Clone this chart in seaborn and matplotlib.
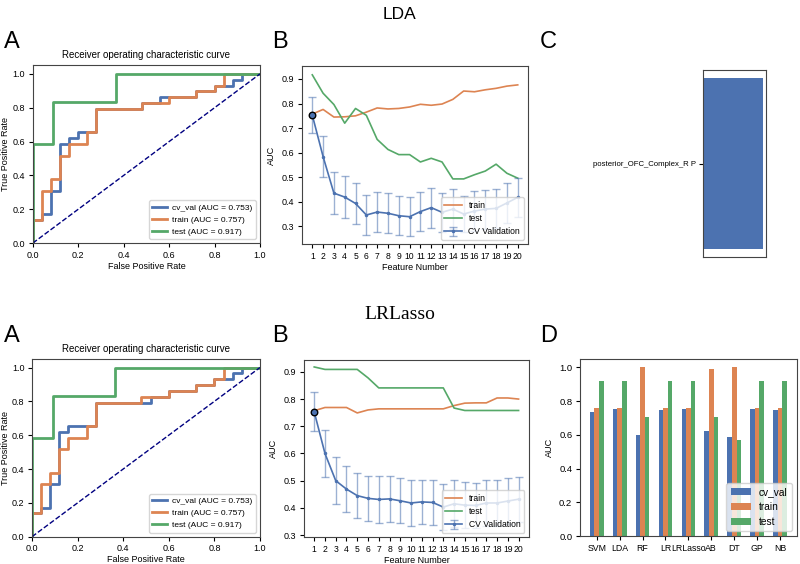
import numpy as np
import pandas as pd
import seaborn as sns
import matplotlib.pyplot as plt

# ROC curves (shared train / test, cv differs per model)
test_fpr = [0, 0, 0.091, 0.091, 0.364, 0.364, 1.0]
test_tpr = [0, 0.583, 0.583, 0.833, 0.833, 1.0, 1.0]
train_fpr = [0, 0, 0.04, 0.04, 0.08, 0.08, 0.12, 0.12, 0.16, 0.16, 0.24, 0.24, 0.28, 0.28,
             0.48, 0.48, 0.6, 0.6, 0.72, 0.72, 0.8, 0.8, 0.84, 0.84, 1.0]
train_tpr = [0, 0.138, 0.138, 0.31, 0.31, 0.379, 0.379, 0.517, 0.517, 0.586, 0.586, 0.655, 0.655, 0.793,
             0.793, 0.828, 0.828, 0.862, 0.862, 0.897, 0.897, 0.931, 0.931, 1.0, 1.0]
lda_cv_fpr = [0, 0, 0.04, 0.04, 0.08, 0.08, 0.12, 0.12, 0.16, 0.16, 0.2, 0.2, 0.28, 0.28, 0.48, 0.48,
              0.56, 0.56, 0.72, 0.72, 0.8, 0.8, 0.88, 0.88, 0.92, 0.92, 1.0]
lda_cv_tpr = [0, 0.138, 0.138, 0.172, 0.172, 0.31, 0.31, 0.586, 0.586, 0.62, 0.62, 0.655, 0.655, 0.793,
              0.793, 0.828, 0.828, 0.862, 0.862, 0.897, 0.897, 0.931, 0.931, 0.966, 0.966, 1.0, 1.0]
lasso_cv_fpr = [0, 0, 0.04, 0.04, 0.08, 0.08, 0.12, 0.12, 0.16, 0.16, 0.28, 0.28, 0.52, 0.52,
                0.6, 0.6, 0.72, 0.72, 0.8, 0.8, 0.88, 0.88, 0.92, 0.92, 1.0]
lasso_cv_tpr = [0, 0.138, 0.138, 0.172, 0.172, 0.31, 0.31, 0.62, 0.62, 0.655, 0.655, 0.793, 0.793, 0.828,
                0.828, 0.862, 0.862, 0.897, 0.897, 0.931, 0.931, 0.966, 0.966, 1.0, 1.0]
auc_labels = ['cv_val (AUC = 0.753)', 'train (AUC = 0.757)', 'test (AUC = 0.917)']

# feature number curves
feature_num = list(range(1, 21))
lda_train = [0.757, 0.776, 0.745, 0.746, 0.750, 0.765, 0.782, 0.778, 0.780, 0.786,
             0.797, 0.793, 0.798, 0.817, 0.851, 0.848, 0.856, 0.862, 0.871, 0.876]
lda_test = [0.917, 0.842, 0.796, 0.720, 0.780, 0.752, 0.654, 0.613, 0.592, 0.592,
            0.562, 0.577, 0.562, 0.493, 0.493, 0.510, 0.525, 0.553, 0.516, 0.496]
lda_cv = [0.753, 0.584, 0.435, 0.419, 0.393, 0.346, 0.358, 0.353, 0.343, 0.339,
          0.360, 0.376, 0.357, 0.370, 0.350, 0.362, 0.370, 0.373, 0.395, 0.418]
lda_cv_std = [0.072, 0.084, 0.086, 0.084, 0.083, 0.080, 0.080, 0.081, 0.080, 0.080,
              0.080, 0.081, 0.080, 0.080, 0.075, 0.080, 0.079, 0.079, 0.080, 0.080]
lasso_train = [0.757, 0.769, 0.769, 0.769, 0.749, 0.760, 0.764, 0.764, 0.764, 0.764,
               0.764, 0.764, 0.764, 0.776, 0.785, 0.786, 0.786, 0.804, 0.804, 0.800]
lasso_test = [0.918, 0.909, 0.909, 0.909, 0.909, 0.878, 0.841, 0.841, 0.841, 0.841,
              0.841, 0.841, 0.841, 0.767, 0.758, 0.758, 0.758, 0.758, 0.758, 0.758]
lasso_cv = [0.753, 0.600, 0.500, 0.469, 0.445, 0.435, 0.431, 0.433, 0.426, 0.418,
            0.422, 0.420, 0.403, 0.415, 0.410, 0.409, 0.418, 0.418, 0.425, 0.432]
lasso_cv_std = [0.072, 0.085, 0.087, 0.084, 0.084, 0.084, 0.085, 0.084, 0.083, 0.083,
                0.082, 0.083, 0.083, 0.087, 0.084, 0.083, 0.084, 0.084, 0.083, 0.083]

# selected feature (panel C)
feature_names = ['posterior_OFC_Complex_R P']
feature_coef = [1.0]

# model comparison (panel D)
models = ['SVM', 'LDA', 'RF', 'LR', 'LRLasso', 'AB', 'DT', 'GP', 'NB']
cv_val = [0.738, 0.753, 0.600, 0.746, 0.753, 0.625, 0.588, 0.751, 0.750]
train_auc = [0.757, 0.757, 1.0, 0.757, 0.757, 0.993, 1.0, 0.757, 0.757]
test_auc = [0.917, 0.917, 0.708, 0.917, 0.917, 0.704, 0.571, 0.917, 0.917]

pal = sns.color_palette('deep')
blue, orange, green = pal[0], pal[1], pal[2]
plt.rcParams['font.family'] = ['Liberation Sans', 'DejaVu Sans']
plt.rcParams['font.size'] = 6.5
plt.rcParams['axes.linewidth'] = 0.8
plt.rcParams['axes.edgecolor'] = '#444444'
plt.rcParams['xtick.major.size'] = 3
plt.rcParams['ytick.major.size'] = 3
plt.rcParams['xtick.major.pad'] = 2.5
plt.rcParams['ytick.major.pad'] = 2.5

fig = plt.figure(figsize=(8, 5.64), dpi=100)


def roc_panel(rect, cv_fpr, cv_tpr):
    ax = fig.add_axes(rect)
    for fpr, tpr, col, lab in zip([cv_fpr, train_fpr, test_fpr], [cv_tpr, train_tpr, test_tpr],
                                  [blue, orange, green], auc_labels):
        sns.lineplot(x=fpr, y=tpr, sort=False, estimator=None, color=col, lw=2, label=lab, ax=ax)
    ax.plot([0, 1], [0, 1], color='navy', lw=1, linestyle='--')
    ax.set_xlim(0, 1)
    ax.set_ylim(0, 1.05)
    ax.set_xlabel('False Positive Rate', fontsize=6.5, labelpad=1.5)
    ax.set_ylabel('True Positive Rate', fontsize=6.5, labelpad=1.5)
    ax.set_title('Receiver operating characteristic curve', fontsize=7, pad=5)
    ax.legend(loc='lower right', fontsize=6, handlelength=1.8, handletextpad=0.6)
    return ax


def feat_panel(rect, train, test, cv, cv_std, ylim):
    ax = fig.add_axes(rect)
    sns.lineplot(x=feature_num, y=train, color=orange, lw=1.2, label='train', ax=ax)
    sns.lineplot(x=feature_num, y=test, color=green, lw=1.2, label='test', ax=ax)
    eb = ax.errorbar(feature_num, cv, yerr=cv_std, color=blue, lw=1.2, marker='.', markersize=3,
                     capsize=3, elinewidth=1, label='CV Validation')
    for c in eb[1]:
        c.set_alpha(0.55)
    for c in eb[2]:
        c.set_alpha(0.55)
    ax.scatter(feature_num[:1], cv[:1], s=22, facecolor=blue, edgecolor='black', lw=1, zorder=5)
    ax.set_xticks(feature_num)
    ax.tick_params(axis='x', labelsize=6.2)
    ax.set_xlim(0.05, 20.95)
    ax.set_ylim(*ylim)
    ax.set_xlabel('Feature Number', fontsize=6.5, labelpad=1.5)
    ax.set_ylabel('AUC', fontsize=6.5)
    ax.legend(loc='lower right', fontsize=6.2)
    return ax


roc_panel([0.041, 0.569, 0.284, 0.315], lda_cv_fpr, lda_cv_tpr)
feat_panel([0.3775, 0.567, 0.2825, 0.316], lda_train, lda_test, lda_cv, lda_cv_std, (0.227, 0.953))

# panel C
axc = fig.add_axes([0.879, 0.544, 0.079, 0.332])
sns.barplot(x=feature_coef, y=feature_names, orient='h', color=blue, saturation=1, width=0.8, ax=axc)
axc.set_ylim(0.44, -0.44)
axc.set_xlim(0, feature_coef[0] * 1.05)
axc.set_xticks([])
axc.set_xlabel('')
axc.tick_params(axis='y', labelsize=5.6)

roc_panel([0.04, 0.0484, 0.285, 0.315], lasso_cv_fpr, lasso_cv_tpr)
feat_panel([0.38, 0.0479, 0.281, 0.314], lasso_train, lasso_test, lasso_cv, lasso_cv_std, (0.293, 0.944))

# panel D
df = pd.DataFrame({'model': models, 'cv_val': cv_val, 'train': train_auc, 'test': test_auc})
df = df.melt(id_vars='model', var_name='set', value_name='AUC')
axd = fig.add_axes([0.725, 0.0496, 0.271, 0.314])
sns.barplot(data=df, x='model', y='AUC', hue='set', palette=[blue, orange, green],
            saturation=1, width=0.6, ax=axd)
axd.set_xlim(-0.73, 8.73)
axd.set_ylim(0, 1.05)
axd.set_xlabel('')
axd.set_ylabel('AUC', fontsize=6.5)
axd.tick_params(axis='y', labelsize=6.8)
axd.tick_params(axis='x', labelsize=6.3)
axd.legend(loc='lower right', fontsize=7.3, title=None)

# headings and panel letters
fig.text(0.5, 0.975, 'LDA', ha='center', va='center', fontsize=12.5, family='Liberation Sans')
fig.text(0.5, 0.443, 'LRLasso', ha='center', va='center', fontsize=14, family='Liberation Serif')
for x, y, s in [(0.005, 0.925, 'A'), (0.34, 0.925, 'B'), (0.675, 0.925, 'C'),
                (0.005, 0.405, 'A'), (0.34, 0.405, 'B'), (0.675, 0.405, 'D')]:
    fig.text(x, y, s, ha='left', va='center', fontsize=17)

fig.savefig('out.png', dpi=100)
